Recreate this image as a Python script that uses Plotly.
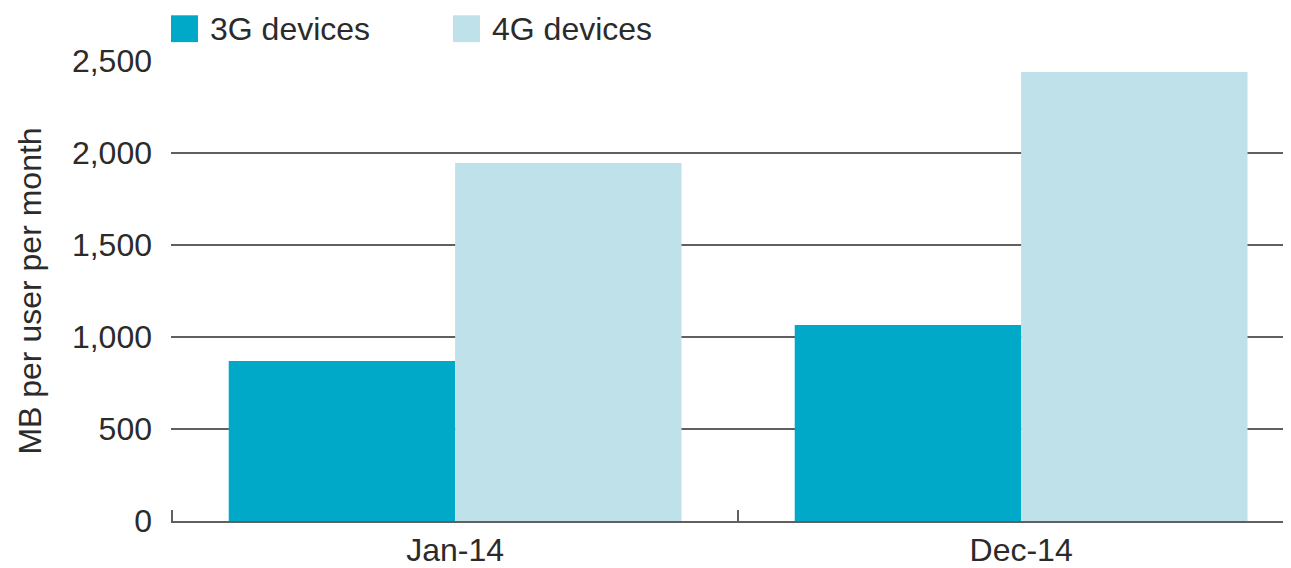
import plotly.graph_objects as go

categories = ["Jan-14", "Dec-14"]
series_names = ["3G devices", "4G devices"]
values_3g = [870, 1065]
values_4g = [1945, 2440]
colors = ["#00A9C7", "#BEE1EA"]
y_ticks = [0, 500, 1000, 1500, 2000, 2500]
y_tick_text = ["0", "500", "1,000", "1,500", "2,000", "2,500"]

FONT = "Liberation Sans, Arial, sans-serif"
TXT = "#2b2b2b"
GRID = "#606060"

# page body has an 8px margin; compensate so the plot lands where the reference has it
OFF = 8
W, H = 1291 - OFF, 568 - OFF
ML, MR, MT = 171 - OFF, 0, 61 - OFF
plot_h = 463
MB = H - MT - plot_h
plot_w = W - ML - MR
CAT_PX = 566.0

fig = go.Figure()
for name, vals, col in zip(series_names, [values_3g, values_4g], colors):
    fig.add_trace(go.Bar(x=categories, y=vals, name=name, marker=dict(color=col, line=dict(width=0))))

fig.update_layout(
    width=W, height=H,
    margin=dict(l=ML, r=MR, t=MT, b=MB),
    paper_bgcolor="white", plot_bgcolor="white",
    barmode="group", bargap=0.2, bargroupgap=0,
    showlegend=False,
    font=dict(family=FONT, size=32, color=TXT),
)
fig.update_xaxes(
    range=[-0.502, -0.502 + plot_w / CAT_PX],
    showgrid=False, showline=True, linecolor=GRID, linewidth=2,
    ticks="inside", tickson="boundaries", ticklen=11, tickcolor=GRID, tickwidth=2,
    tickfont=dict(size=32, color=TXT),
)
fig.update_yaxes(
    range=[0, 2500], tickvals=y_ticks, ticktext=y_tick_text,
    showgrid=True, gridcolor=GRID, gridwidth=2, zeroline=False,
    showline=False, ticks="", ticklabelstandoff=18,
    tickfont=dict(size=32, color=TXT),
    title=dict(text="MB per user per month", font=dict(size=32, color=TXT), standoff=20),
)

# legend drawn as squares + labels above the plot (positions in reference pixels)
def px_to_paper_x(px):
    return (px - OFF - ML) / plot_w

def py_to_paper_y(py):
    return (MT + plot_h - (py - OFF)) / plot_h

legend_x = [171, 453]
for lx, name, col in zip(legend_x, series_names, colors):
    fig.add_shape(type="rect", xref="paper", yref="paper",
                  x0=px_to_paper_x(lx), x1=px_to_paper_x(lx + 27),
                  y0=py_to_paper_y(42), y1=py_to_paper_y(15),
                  fillcolor=col, line=dict(width=0))
    fig.add_annotation(text=name, xref="paper", yref="paper",
                       x=px_to_paper_x(lx + 37), y=py_to_paper_y(29),
                       xanchor="left", yanchor="middle", showarrow=False,
                       font=dict(size=32, color=TXT))

fig.write_html("out.html")
